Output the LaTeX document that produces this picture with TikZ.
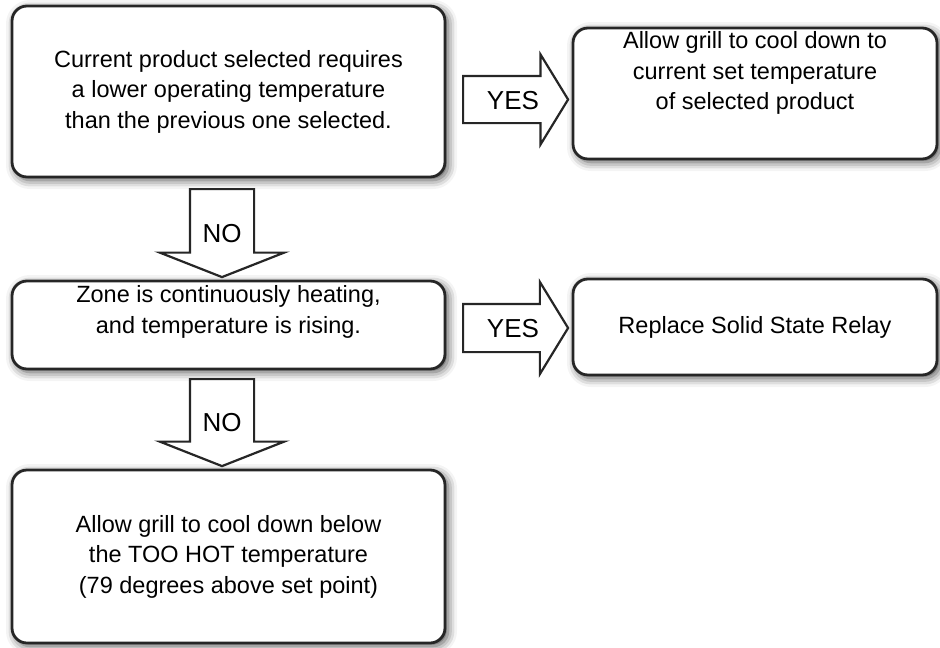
\documentclass[tikz,border=0pt]{standalone}
\usepackage{fontspec}
\setmainfont{Liberation Sans}
\usetikzlibrary{shapes.arrows,shadows.blur}

\begin{document}
\begin{tikzpicture}[x=1pt,y=-1pt,
    box/.style={draw=black!85, line width=2.8pt, rounded corners=15pt, fill=white, align=center, inner sep=0pt,
        font=\fontsize{23.5}{30.5}\selectfont,
        blur shadow={shadow xshift=3pt, shadow yshift=-3pt, shadow blur radius=9pt, shadow opacity=70}},
    txt/.style={align=center, font=\fontsize{23.5}{30.5}\selectfont},
    block arrow/.style={single arrow, draw=black!85, line width=2.2pt, fill=white, inner xsep=0pt, anchor=tail},
    yes arrow/.style={block arrow, inner ysep=22.5pt, minimum height=105pt, single arrow head extend=21.5pt, single arrow tip angle=117},
    no arrow/.style={block arrow, rotate=-90, inner ysep=31pt, minimum height=88pt, single arrow head extend=30pt, single arrow tip angle=137},
    answer/.style={font=\fontsize{26}{30}\selectfont, anchor=base}]

    \useasboundingbox (0,0) rectangle (940,648);

    \node[box, minimum width=433pt, minimum height=171pt] (prod) at (228.5,91.5) {Current product selected requires\\a lower operating temperature\\than the previous one selected.};
    \node[box, minimum width=364pt, minimum height=131pt] (cool) at (755,93.5) {};
    \node[txt] (cooltext) at ([yshift=20.5pt]cool.center) {Allow grill to cool down to\\current set temperature\\of selected product};

    \node[box, minimum width=433pt, minimum height=88pt] (zone) at (228.5,325) {};
    \node[txt] (zonetext) at ([yshift=13pt]zone.center) {Zone is continuously heating,\\and temperature is rising.};
    \node[box, minimum width=364pt, minimum height=96pt] (relay) at (755,327) {Replace Solid State Relay};

    \node[box, minimum width=433pt, minimum height=173pt] (toohot) at (228.5,556.5) {Allow grill to cool down below\\the TOO HOT temperature\\(79 degrees above set point)};

    \node[yes arrow] (yes1) at (462,99.5) {};
    \node[no arrow] (no1) at (222,188) {};
    \node[yes arrow, inner ysep=23pt, single arrow head extend=22pt] (yes2) at (462,328) {};
    \node[no arrow, minimum height=87pt] (no2) at (222,378) {};

    \node[answer] (yes1label) at (513,109) {YES};
    \node[answer] (no1label) at (222,242) {NO};
    \node[answer] (yes2label) at (513,337) {YES};
    \node[answer] (no2label) at (222,431) {NO};
\end{tikzpicture}
\end{document}
